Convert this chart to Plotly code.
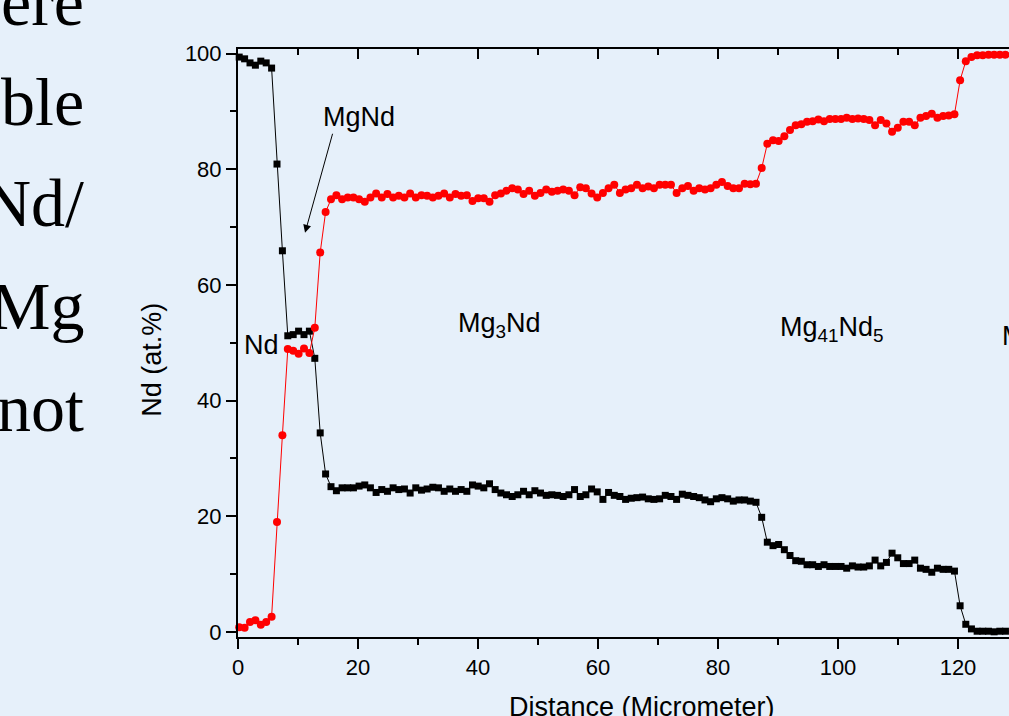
import plotly.graph_objects as go

# EDS line scan across the Nd / Mg diffusion couple
distance_um = [0.2, 1.1, 2.0, 2.9, 3.8, 4.7, 5.6, 6.5, 7.4, 8.3, 9.2, 10.1, 11.0, 11.9, 12.8,
               13.7, 14.6, 15.5, 16.4, 17.35, 18.29, 19.24, 20.18, 21.13, 22.07, 23.02, 23.96,
               24.91, 25.85, 26.80, 27.74, 28.69, 29.63, 30.58, 31.52, 32.47, 33.41, 34.36,
               35.30, 36.25, 37.19, 38.14, 39.08, 40.03, 40.97, 41.92, 42.86, 43.81, 44.75,
               45.70, 46.64, 47.59, 48.53, 49.48, 50.42, 51.37, 52.31, 53.26, 54.20, 55.15,
               56.09, 57.04, 57.98, 58.93, 59.87, 60.82, 61.76, 62.71, 63.65, 64.60, 65.54,
               66.49, 67.43, 68.38, 69.32, 70.27, 71.21, 72.16, 73.10, 74.05, 74.99, 75.94,
               76.88, 77.83, 78.77, 79.72, 80.66, 81.61, 82.55, 83.50, 84.44, 85.39, 86.33,
               87.28, 88.22, 89.17, 90.11, 91.06, 92.00, 92.95, 93.89, 94.84, 95.78, 96.73,
               97.67, 98.62, 99.56, 100.51, 101.45, 102.40, 103.34, 104.29, 105.23, 106.18,
               107.12, 108.07, 109.01, 109.96, 110.90, 111.85, 112.79, 113.74, 114.68, 115.63,
               116.57, 117.52, 118.46, 119.41, 120.35, 121.30, 122.24, 123.19, 124.13, 125.08,
               126.02, 126.97, 127.91, 128.86, 129.80]

nd_at_pct = [99.4, 99.1, 98.4, 98.0, 98.7, 98.4, 97.5,
             80.9, 65.9, 51.2, 51.4, 52.0, 51.4, 52.0, 47.3, 34.4, 27.3, 25.1, 24.4,
             24.9, 24.9, 24.9, 25.2, 25.4, 24.9, 24.1, 24.6, 24.3, 24.9,
             24.6, 24.7, 24.0, 24.9, 24.5, 24.7, 25.0, 24.9, 24.3, 24.7,
             24.3, 24.6, 24.3, 25.4, 25.2, 24.9, 25.6, 24.6, 24.0, 23.7,
             23.4, 23.7, 24.3, 23.7, 24.4, 24.0, 23.6, 23.7, 23.6, 23.4,
             23.7, 24.6, 23.4, 23.7, 24.7, 24.2, 22.9, 24.1, 23.6, 23.4,
             22.9, 23.1, 23.2, 23.3, 23.0, 22.9, 23.0, 23.6, 23.4, 22.9,
             23.8, 23.6, 23.4, 23.2, 22.8, 22.5, 23.0, 23.2, 23.0, 22.6,
             22.8, 22.8, 22.6, 22.4, 19.8, 15.5, 14.9, 15.1, 14.2, 13.2,
             12.3, 12.2, 11.6, 11.6, 11.3, 11.6, 11.3, 11.3, 11.3, 11.0,
             11.4, 11.2, 11.2, 11.4, 12.4, 11.4, 12.0, 13.6, 12.8, 11.8,
             11.8, 12.4, 11.0, 10.8, 10.3, 11.0, 10.8, 10.8, 10.5, 4.5,
             1.3, 0.5, 0.1, 0.1, 0.1, 0.0, 0.1, 0.1, 0.1, 0.1]

mg_at_pct = [0.8, 0.7, 1.7, 2.0, 1.2, 1.7, 2.6,
             19.0, 34.0, 48.9, 48.6, 48.1, 49.0, 48.2, 52.6, 65.6, 72.6, 74.8, 75.5,
             74.8, 75.1, 75.1, 74.8, 74.4, 75.1, 75.8, 75.1, 75.7, 75.1,
             75.4, 75.1, 75.8, 75.1, 75.5, 75.4, 75.1, 75.4, 75.8, 75.1,
             75.7, 75.4, 75.5, 74.5, 75.0, 75.0, 74.4, 75.5, 75.8, 76.3,
             76.7, 76.5, 75.7, 76.3, 75.4, 75.9, 76.5, 76.1, 76.3, 76.5,
             76.3, 75.5, 76.9, 76.7, 75.8, 75.1, 75.9, 76.7, 77.3, 75.9,
             76.5, 76.7, 77.3, 76.7, 77.0, 76.7, 77.3, 77.3, 77.3, 75.9,
             76.7, 77.1, 76.3, 76.7, 76.5, 76.7, 77.3, 77.8, 77.1, 76.7,
             76.7, 77.5, 77.4, 77.5, 80.2, 84.4, 85.0, 84.9, 85.7, 86.8,
             87.6, 87.8, 88.2, 88.3, 88.6, 88.3, 88.7, 88.7, 88.7, 88.9,
             88.7, 88.8, 88.7, 88.5, 87.6, 88.5, 87.9, 86.5, 87.2, 88.2,
             88.2, 87.6, 88.9, 89.2, 89.6, 88.9, 89.2, 89.3, 89.5, 95.4,
             98.7, 99.4, 99.7, 99.7, 99.8, 99.8, 99.8, 99.8, 99.8, 99.8]

x_tick_vals = [0, 20, 40, 60, 80, 100, 120]
y_tick_vals = [0, 20, 40, 60, 80, 100]

# phase labels: (text, x, y, anchor)
phase_labels = [
    ("Nd", 3.85, 49.6, "center"),
    ("Mg<sub>3</sub>Nd", 43.5, 53.0, "center"),
    ("Mg<sub>41</sub>Nd<sub>5</sub>", 99.0, 52.4, "center"),
    ("Mg", 127.0, 51.2, "left"),
]
mgnd_label = ("MgNd", 20.2, 89.0)
mgnd_arrow_tip = (11.17, 69.0)
mgnd_arrow_tail = (15.83, 86.4)

# slide body text running beside the chart
slide_words = ["ere", "ble", "Nd/", "Mg", "not"]
slide_baselines_px = [28, 128, 230, 333, 435]

BG = "#E6F0FA"
SANS = "Liberation Sans, Arial, sans-serif"
SERIF = "Liberation Serif, Times New Roman, serif"

W, H = 1009, 716
ML, MT, MB = 238, 49, 78.5
plot_w = W - ML
plot_h = H - MT - MB

fig = go.Figure()

fig.add_trace(go.Scatter(
    x=distance_um, y=nd_at_pct, mode="lines+markers", name="Nd",
    line=dict(color="black", width=1),
    marker=dict(symbol="square", size=7, color="black"),
    cliponaxis=False, showlegend=False,
))
fig.add_trace(go.Scatter(
    x=distance_um, y=mg_at_pct, mode="lines+markers", name="Mg",
    line=dict(color="#FF0000", width=1),
    marker=dict(symbol="circle", size=8, color="#FF0000"),
    cliponaxis=False, showlegend=False,
))
# carrier trace for the top frame axis
fig.add_trace(go.Scatter(
    x=distance_um, y=nd_at_pct, xaxis="x2", mode="none",
    showlegend=False, hoverinfo="skip",
))

x_range = [0, plot_w / 6.0]
y_range = [-0.9, 100.8]

fig.update_layout(
    width=W, height=H,
    margin=dict(l=ML, r=0, t=MT, b=MB, pad=0),
    paper_bgcolor=BG, plot_bgcolor=BG,
    font=dict(family=SANS, color="black", size=22),
    showlegend=False,
    xaxis=dict(
        range=x_range, tickmode="array", tickvals=x_tick_vals,
        showline=True, linecolor="black", linewidth=2,
        ticks="outside", ticklen=10, tickwidth=2, tickcolor="black",
        minor=dict(ticks="outside", ticklen=6, tickwidth=2, tickcolor="black",
                   tick0=0, dtick=10, showgrid=False),
        showgrid=False, zeroline=False,
        tickfont=dict(size=22, family=SANS),
    ),
    xaxis2=dict(
        range=x_range, overlaying="x", side="top", tickmode="array", tickvals=x_tick_vals,
        showline=True, linecolor="black", linewidth=2,
        ticks="inside", ticklen=10, tickwidth=2, tickcolor="black",
        minor=dict(ticks="inside", ticklen=6, tickwidth=2, tickcolor="black",
                   tick0=0, dtick=10, showgrid=False),
        showticklabels=False, showgrid=False, zeroline=False,
    ),
    yaxis=dict(
        range=y_range, tickmode="array", tickvals=y_tick_vals,
        showline=True, linecolor="black", linewidth=2,
        ticks="outside", ticklen=10, tickwidth=2, tickcolor="black",
        minor=dict(ticks="outside", ticklen=6, tickwidth=2, tickcolor="black",
                   tick0=0, dtick=10, showgrid=False),
        showgrid=False, zeroline=False,
        tickfont=dict(size=22, family=SANS),
    ),
)

annotations = []

# axis titles
annotations.append(dict(
    text="Distance (Micrometer)", xref="x", yref="paper",
    x=67.3, y=(MT + plot_h - 708) / plot_h, xanchor="center", yanchor="middle",
    showarrow=False, font=dict(size=27, family=SANS),
))
annotations.append(dict(
    text="Nd (at.%)", xref="paper", yref="paper", textangle=-90,
    x=(152 - ML) / plot_w, y=(MT + plot_h - 360) / plot_h,
    xanchor="center", yanchor="middle",
    showarrow=False, font=dict(size=27, family=SANS),
))

# phase labels
for text, x, y, anchor in phase_labels:
    annotations.append(dict(
        text=text, x=x, y=y, xref="x", yref="y", xanchor=anchor, yanchor="middle",
        showarrow=False, font=dict(size=27, family=SANS),
    ))
annotations.append(dict(
    text=mgnd_label[0], x=mgnd_label[1], y=mgnd_label[2], xref="x", yref="y",
    xanchor="center", yanchor="middle", showarrow=False, font=dict(size=27, family=SANS),
))
annotations.append(dict(
    text="", x=mgnd_arrow_tip[0], y=mgnd_arrow_tip[1], xref="x", yref="y",
    ax=mgnd_arrow_tail[0], ay=mgnd_arrow_tail[1], axref="x", ayref="y",
    showarrow=True, arrowhead=2, arrowsize=1.6, arrowwidth=1, arrowcolor="black",
    standoff=0, startstandoff=0,
))

# slide text fragments
SERIF_SIZE = 68
for word, base in zip(slide_words, slide_baselines_px):
    mid_px = base - 0.30 * SERIF_SIZE - 6
    annotations.append(dict(
        text=word, xref="paper", yref="paper",
        x=(86 - ML) / plot_w, y=(MT + plot_h - mid_px) / plot_h,
        xanchor="right", yanchor="middle", showarrow=False,
        font=dict(size=SERIF_SIZE, family=SERIF, color="black"),
    ))

fig.update_layout(annotations=annotations)

fig.write_html("out.html", config={"displayModeBar": False})
